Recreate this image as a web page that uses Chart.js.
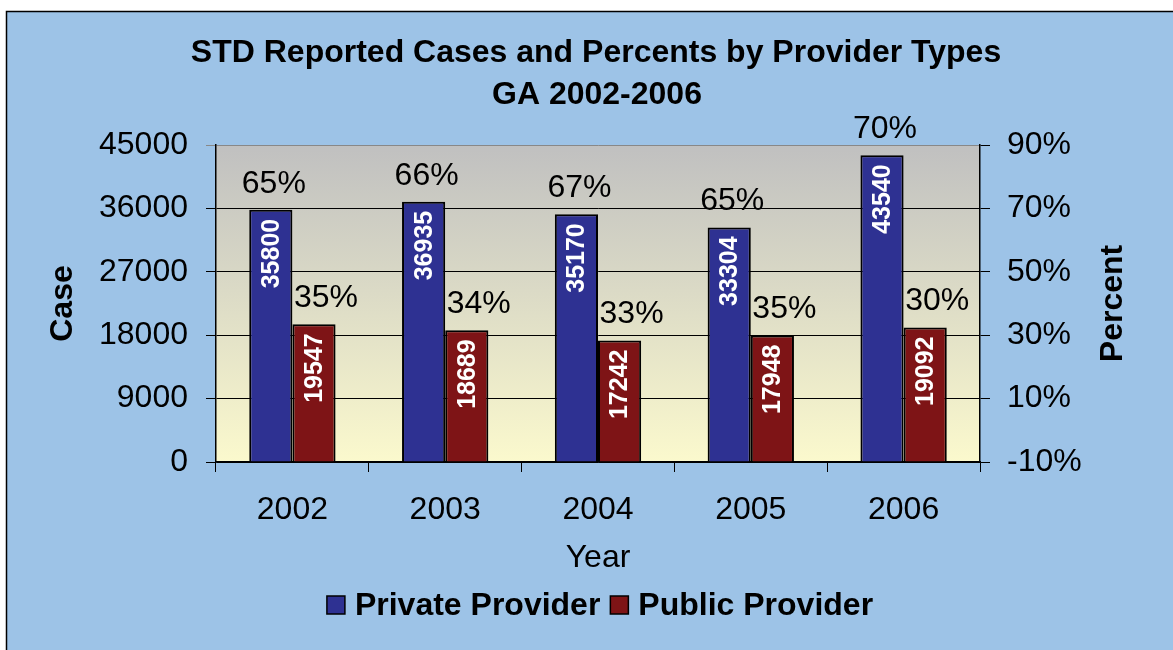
<!DOCTYPE html>
<html>
<head>
<meta charset="utf-8">
<script src="https://cdn.jsdelivr.net/npm/chart.js@4"></script>
<style>
html, body { margin: 0; padding: 0; background: #fff; }
canvas { display: block; }
</style>
</head>
<body>
<canvas id="myChart" width="1173" height="650"></canvas>
<script>
let years = ['2002', '2003', '2004', '2005', '2006'];
let privateCases = [35800, 36935, 35170, 33304, 43540];
let publicCases = [19547, 18689, 17242, 17948, 19092];
let privatePct = [65, 66, 67, 65, 70];
let publicPct = [35, 34, 33, 35, 30];
let caseTicks = [0, 9000, 18000, 27000, 36000, 45000];
let pctTicks = [-10, 10, 30, 50, 70, 90];

const FONT = "'Liberation Sans', Arial, sans-serif";
const BLUE_BG = '#9dc3e7';

// fondo, marco y degradado del area de la grafica
const fondo = {
    id: 'fondo',
    beforeDraw(chart) {
        let c = chart.ctx;
        let a = chart.chartArea;
        c.save();
        c.fillStyle = '#fff';
        c.fillRect(0, 0, chart.width, chart.height);
        c.fillStyle = BLUE_BG;
        c.fillRect(6, 11, chart.width, chart.height);
        c.strokeStyle = '#000';
        c.lineWidth = 1.5;
        c.beginPath();
        c.moveTo(6.5, chart.height);
        c.lineTo(6.5, 11.5);
        c.lineTo(chart.width, 11.5);
        c.stroke();
        let g = c.createLinearGradient(0, a.top, 0, a.bottom);
        g.addColorStop(0, '#c0c0c0');
        g.addColorStop(1, '#fbf9cd');
        c.fillStyle = g;
        c.fillRect(a.left, a.top, a.right - a.left, a.bottom - a.top);
        c.restore();
    }
};

// etiquetas de valores y porcentajes
const etiquetas = {
    id: 'etiquetas',
    afterDatasetsDraw(chart) {
        let c = chart.ctx;
        c.save();
        [0, 1].forEach(i => {
            let meta = chart.getDatasetMeta(i);
            let pct = i === 0 ? privatePct : publicPct;
            let vals = chart.data.datasets[i].data;
            meta.data.forEach((bar, j) => {
                // numero vertical dentro de la barra
                c.save();
                c.translate(bar.x, bar.y + 9);
                c.rotate(-Math.PI / 2);
                c.fillStyle = '#fff';
                c.font = 'bold 25px ' + FONT;
                c.textAlign = 'right';
                c.textBaseline = 'middle';
                c.fillText(String(vals[j]), 0, 1);
                c.restore();
                // porcentaje encima
                c.fillStyle = '#000';
                c.font = '32px ' + FONT;
                c.textAlign = 'center';
                c.textBaseline = 'middle';
                let dx = i === 0 ? 3 : 12;
                c.fillText(pct[j] + '%', bar.x + dx, bar.y - 26);
            });
        });
        c.restore();
    }
};

// titulos y leyenda
const textos = {
    id: 'textos',
    afterDraw(chart) {
        let c = chart.ctx;
        let a = chart.chartArea;
        let midY = (a.top + a.bottom) / 2;
        c.save();
        c.fillStyle = '#000';
        c.textAlign = 'center';
        c.textBaseline = 'middle';
        c.font = 'bold 32px ' + FONT;
        c.fillText('STD Reported Cases and Percents by Provider Types', 596, 53);
        c.fillText('GA 2002-2006', 597, 95);

        c.font = '32px ' + FONT;
        c.fillText('Year', (a.left + a.right) / 2, 558);

        c.font = 'bold 32px ' + FONT;
        c.save();
        c.translate(63, midY);
        c.rotate(-Math.PI / 2);
        c.fillText('Case', 0, 0);
        c.restore();
        c.save();
        c.translate(1113, midY);
        c.rotate(-Math.PI / 2);
        c.fillText('Percent', 0, 0);
        c.restore();

        // leyenda
        let items = chart.data.datasets;
        let box = 18, gap = 10, sep = 10;
        let widths = items.map(d => c.measureText(d.label).width);
        let total = widths.reduce((s, w) => s + box + gap + w, 0) + sep * (items.length - 1);
        let x = (a.left + a.right) / 2 + 2 - total / 2;
        let y = 605;
        c.textAlign = 'left';
        items.forEach((d, i) => {
            c.fillStyle = d.backgroundColor;
            c.fillRect(x, y - box / 2, box, box);
            c.strokeStyle = '#000';
            c.lineWidth = 1.5;
            c.strokeRect(x, y - box / 2, box, box);
            c.fillStyle = '#000';
            c.fillText(d.label, x + box + gap, y + 1);
            x += box + gap + widths[i] + sep;
        });
        c.restore();
    }
};

var ctx = document.getElementById('myChart').getContext('2d');
var myChart = new Chart(ctx, {
    type: 'bar',
    data: {
        labels: years,
        datasets: [{
            label: 'Private Provider',
            data: privateCases,
            backgroundColor: '#2e3192',
            borderColor: '#000',
            borderWidth: 2,
            yAxisID: 'y'
        }, {
            label: 'Public Provider',
            data: publicCases,
            backgroundColor: '#7e1416',
            borderColor: '#000',
            borderWidth: 2,
            yAxisID: 'y'
        }]
    },
    options: {
        responsive: false,
        animation: false,
        layout: { padding: { top: 145, left: 0, right: 0, bottom: 0 } },
        categoryPercentage: 0.565,
        barPercentage: 1,
        plugins: {
            legend: { display: false },
            title: { display: false },
            tooltip: { enabled: false }
        },
        scales: {
            x: {
                offset: true,
                grid: {
                    offset: true,
                    drawOnChartArea: false,
                    drawTicks: true,
                    tickLength: 10,
                    color: '#000'
                },
                border: { color: '#000', width: 1.5 },
                ticks: {
                    color: '#000',
                    font: { family: FONT, size: 32 },
                    padding: 19,
                    maxRotation: 0
                },
                afterFit(scale) { scale.height = 650 - 462; }
            },
            y: {
                position: 'left',
                min: 0,
                max: 45000,
                afterBuildTicks(scale) { scale.ticks = caseTicks.map(v => ({ value: v })); },
                grid: {
                    color: c => (c.tick && c.tick.value === 45000) ? '#888' : '#000',
                    tickLength: 10
                },
                border: { color: '#000', width: 1.5 },
                ticks: {
                    color: '#000',
                    font: { family: FONT, size: 32 },
                    padding: 18,
                    callback: v => String(v)
                },
                afterFit(scale) { scale.width = 216; }
            },
            y1: {
                position: 'right',
                display: true,
                min: -10,
                max: 90,
                afterBuildTicks(scale) { scale.ticks = pctTicks.map(v => ({ value: v })); },
                grid: {
                    drawOnChartArea: false,
                    tickLength: 10,
                    color: '#000'
                },
                border: { color: '#000', width: 1.5 },
                ticks: {
                    color: '#000',
                    font: { family: FONT, size: 32 },
                    padding: 17,
                    callback: v => v + '%'
                },
                afterFit(scale) { scale.width = 1173 - 980; }
            }
        }
    },
    plugins: [fondo, etiquetas, textos]
});
</script>
</body>
</html>
